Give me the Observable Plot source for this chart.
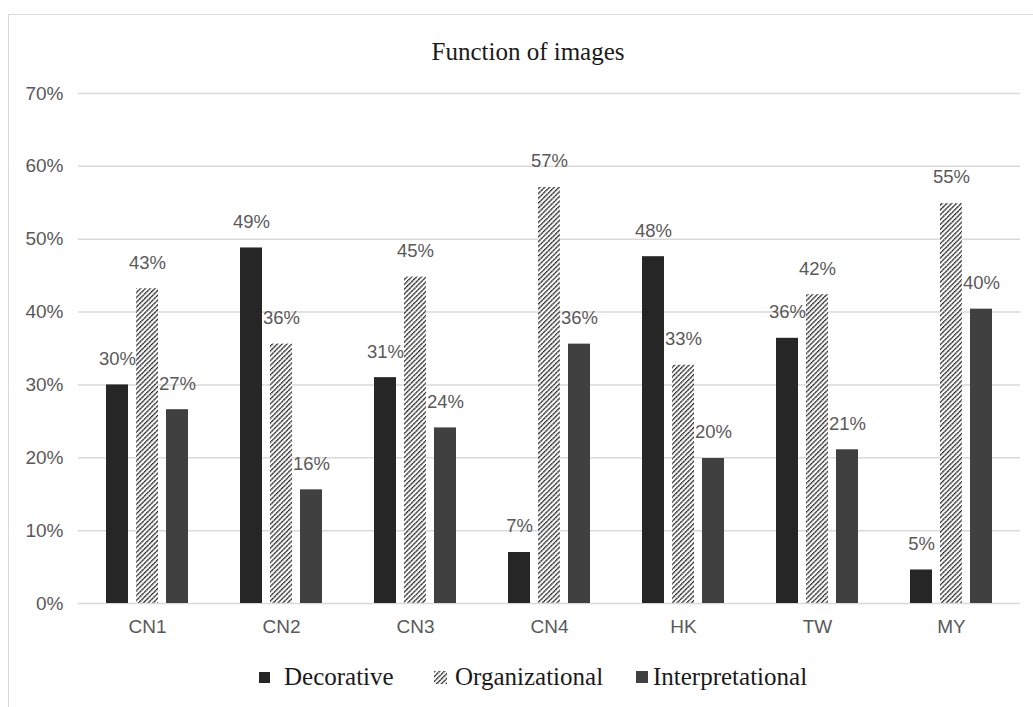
<!DOCTYPE html>
<html>
<head>
<meta charset="utf-8">
<script src="https://cdn.jsdelivr.net/npm/d3@7"></script>
<script src="https://cdn.jsdelivr.net/npm/@observablehq/plot@0.6"></script>
<style>
  html, body { margin: 0; padding: 0; background: #fff; width: 1033px; height: 707px; overflow: hidden; }
  #frame { position: absolute; left: 8px; top: 14px; width: 1040px; height: 720px; border: 1px solid #d9d9d9; box-sizing: border-box; }
  #title { position: absolute; left: 0; width: 1056px; top: 37px; text-align: center; font-family: "Liberation Serif", "Times New Roman", serif; font-size: 25px; color: #1a1a1a; line-height: 30px; }
  #chart { position: absolute; left: 0; top: 0; }
  #legend { position: absolute; top: 0; left: 0; font-family: "Liberation Serif", "Times New Roman", serif; font-size: 25px; color: #1a1a1a; }
  .lt { position: absolute; top: 662px; line-height: 30px; white-space: nowrap; }
  .sw { position: absolute; }
</style>
</head>
<body>
<svg width="0" height="0" style="position:absolute">
  <defs>
    <pattern id="hatch" patternUnits="userSpaceOnUse" width="3.4" height="3.4" patternTransform="rotate(45)">
      <rect width="3.4" height="3.4" fill="#ffffff"></rect>
      <line x1="0.7" y1="0" x2="0.7" y2="3.4" stroke="#111" stroke-width="1.35" stroke-dasharray="1.3 0.5"></line>
    </pattern>
  </defs>
</svg>
<div id="frame"></div>
<div id="title">Function of images</div>
<div id="chart"></div>
<div id="legend"></div>
<script>
const categories = ["CN1", "CN2", "CN3", "CN4", "HK", "TW", "MY"];
const seriesNames = ["Decorative", "Organizational", "Interpretational"];
const decorative = [0.300, 0.488, 0.310, 0.070, 0.476, 0.364, 0.046];
const organizational = [0.432, 0.356, 0.448, 0.571, 0.327, 0.424, 0.549];
const interpretational = [0.266, 0.156, 0.241, 0.356, 0.199, 0.211, 0.404];
const yTicks = [0, 0.1, 0.2, 0.3, 0.4, 0.5, 0.6, 0.7];

const fills = ["#262626", "url(#hatch)", "#404040"];
const offsets = [-30, 0, 30];
const seriesValues = [decorative, organizational, interpretational];

const fmt = d3.format(".0%");
const sans = "'Liberation Sans', Arial, sans-serif";

const marks = [
  Plot.ruleY(yTicks, {stroke: "#d9d9d9", strokeWidth: 1.5})
];
seriesValues.forEach((vals, i) => {
  const data = categories.map((c, j) => ({category: c, value: vals[j]}));
  marks.push(Plot.barY(data, {
    x: "category", y: "value", fill: fills[i],
    dx: offsets[i], insetLeft: 56, insetRight: 56
  }));
  marks.push(Plot.text(data, {
    x: "category", y: "value", text: d => fmt(d.value),
    dx: offsets[i], dy: -26, fill: "#595959",
    fontSize: 18.5, fontFamily: sans
  }));
});

const chart = Plot.plot({
  width: 1033,
  height: 645,
  marginTop: 93,
  marginBottom: 42,
  marginLeft: 78,
  marginRight: 13,
  style: {background: "transparent", fontFamily: sans},
  x: {domain: categories, padding: 0, label: null},
  y: {domain: [0, 0.7], label: null},
  marks: [
    ...marks,
    Plot.axisX({tickSize: 0, tickPadding: 16, fontSize: 19, fill: "#595959", label: null}),
    Plot.axisY(yTicks, {tickSize: 0, tickPadding: 15, fontSize: 19, fill: "#595959", tickFormat: fmt, label: null})
  ]
});
document.getElementById("chart").appendChild(chart);

// legend: swatch left, text left
const legendPos = [
  {sw: 259, sww: 11, tx: 284},
  {sw: 434, sww: 13, tx: 455},
  {sw: 636, sww: 12, tx: 653}
];
const legend = document.getElementById("legend");
seriesNames.forEach((name, i) => {
  const p = legendPos[i];
  const sw = document.createElementNS("http://www.w3.org/2000/svg", "svg");
  sw.setAttribute("width", p.sww); sw.setAttribute("height", p.sww);
  sw.setAttribute("class", "sw");
  sw.style.left = p.sw + "px";
  sw.style.top = (677 - p.sww / 2) + "px";
  const r = document.createElementNS("http://www.w3.org/2000/svg", "rect");
  r.setAttribute("width", p.sww); r.setAttribute("height", p.sww);
  r.setAttribute("fill", fills[i]);
  sw.appendChild(r);
  legend.appendChild(sw);
  const t = document.createElement("div");
  t.className = "lt";
  t.style.left = p.tx + "px";
  t.textContent = name;
  legend.appendChild(t);
});
</script>
</body>
</html>
